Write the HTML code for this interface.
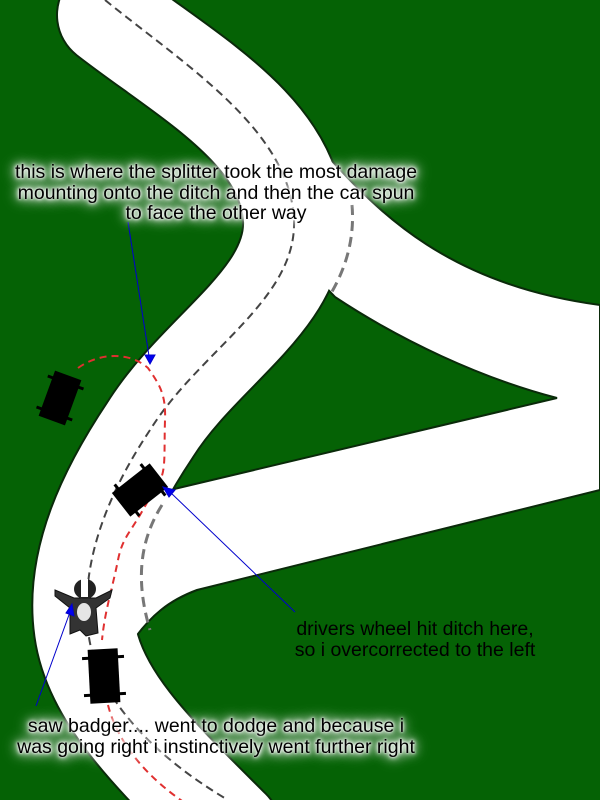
<!DOCTYPE html>
<html><head><style>
body{margin:0;width:600px;height:800px;overflow:hidden;background:#056205;font-family:"Liberation Sans",sans-serif;}
.t{position:absolute;font-size:19.5px;line-height:20.5px;text-align:center;color:#000;white-space:nowrap}
.g{text-shadow:0 0 6px #fff,0 0 10px #fff,0 0 14px #fff,0 0 18px #fff,0 0 4px #fff,0 0 2px #fff}
</style></head><body>
<svg width="600" height="800" style="position:absolute;left:0;top:0">
<path d="M108,15 C185,75 290,130 294,220 C297,300 200,350 150,430 C110,490 75,560 85,630 C95,700 160,760 230,830" fill="none" stroke="#0a2a0a" stroke-width="104" stroke-linecap="round"/>
<path d="M295,180 L322,150 C380,215 450,285 600,305 L600,490 L197,590 C170,600 150,615 130,645 L90,640 L110,500 L170,490 L557,398 C480,378 400,340 335,297 L290,250 Z" fill="#fff" stroke="#0a2a0a" stroke-width="2"/>
<path d="M108,15 C185,75 290,130 294,220 C297,300 200,350 150,430 C110,490 75,560 85,630 C95,700 160,760 230,830" fill="none" stroke="#fff" stroke-width="100" stroke-linecap="round"/>
<path d="M105,0 C185,65 290,130 294,220 C297,300 200,350 150,430 C110,490 80,560 88,630 C95,700 160,760 228,800" fill="none" stroke="#444" stroke-width="2" stroke-dasharray="8,5"/>
<path d="M352,205 C355,240 345,270 330,295" fill="none" stroke="#777" stroke-width="3" stroke-dasharray="10,6"/>
<path d="M162,505 C140,540 135,580 150,630" fill="none" stroke="#777" stroke-width="3" stroke-dasharray="10,6"/>
<path d="M78,368 C100,352 130,352 148,368 C160,385 166,395 165,420 C164,450 166,470 160,480 L140,515 C128,535 122,540 118,560 C112,590 105,610 102,640 M108,705 C118,745 150,780 188,805" fill="none" stroke="#e03030" stroke-width="2" stroke-dasharray="7,5"/>
<g fill="#000">
<g transform="translate(60,398) rotate(20)"><rect x="-14" y="-24" width="28" height="48"/><rect x="-19" y="-18" width="38" height="3"/><rect x="-19" y="15" width="38" height="3"/></g>
<g transform="translate(140,490) rotate(52)"><rect x="-15" y="-24" width="30" height="48"/><rect x="-20" y="-18" width="40" height="3"/><rect x="-20" y="15" width="40" height="3"/></g>
<g transform="translate(104,676) rotate(-3)"><rect x="-15" y="-27" width="30" height="54"/><rect x="-21" y="-20" width="42" height="3"/><rect x="-21" y="17" width="42" height="3"/></g>
</g>
<g>
<path d="M55,590 L74,598 L96,598 L112,590 L110,598 L96,608 L98,633 L86,636 L80,630 L70,634 L70,608 L55,596Z" fill="#333" stroke="#111" stroke-width="1"/>
<ellipse cx="85" cy="589" rx="11" ry="10" fill="#222"/>
<path d="M81,579 L88,579 L88,597 L81,597Z" fill="#fff"/>
<ellipse cx="84" cy="612" rx="7" ry="9" fill="#e5e5e5"/>
</g>
<g stroke="#0000cc" stroke-width="1" fill="#0000ee">
<line x1="128" y1="222" x2="149" y2="356"/><path d="M145,355 L155,355 L150,364Z"/>
<line x1="295" y1="612" x2="170" y2="492"/><path d="M163,487 L175,490 L169,497Z"/>
<line x1="36" y1="706" x2="70" y2="612"/><path d="M72,604 L74,616 L66,613Z"/>
</g>
</svg>
<div class="t g" style="left:0;width:432px;top:162px">this is where the splitter took the most damage<br>mounting onto the ditch and then the car spun<br>to face the other way</div>
<div class="t" style="left:265px;width:300px;top:619px">drivers wheel hit ditch here,<br>so i overcorrected to the left</div>
<div class="t g" style="left:0;width:432px;top:716px">saw badger.... went to dodge and because i<br>was going right i instinctively went further right</div>
</body></html>
